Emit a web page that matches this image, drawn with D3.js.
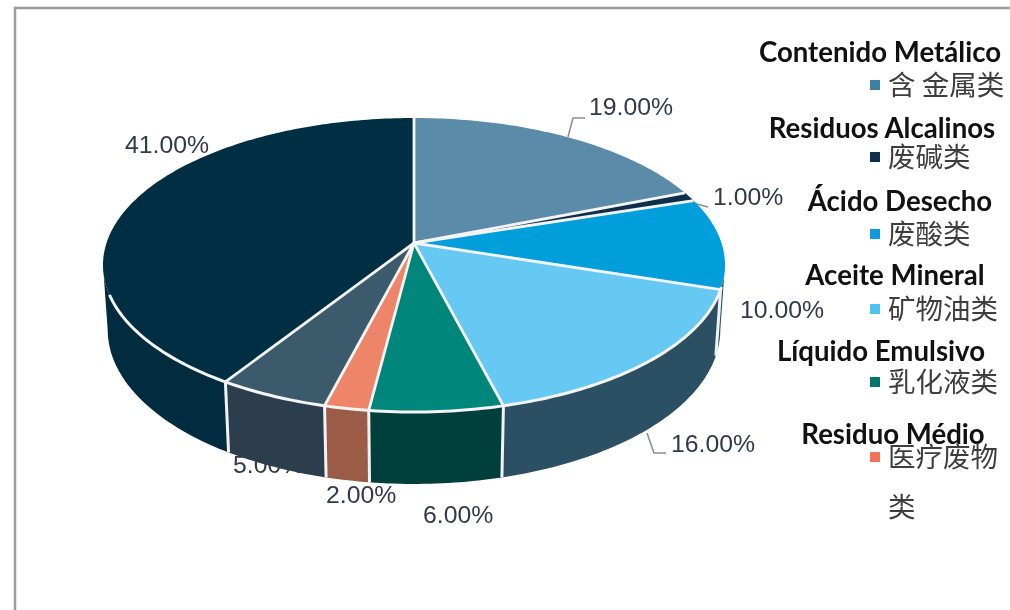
<!DOCTYPE html>
<html>
<head>
<meta charset="utf-8">
<script src="https://cdn.jsdelivr.net/npm/d3@7"></script>
<style>
  html, body { margin: 0; padding: 0; background: #fff; }
  svg { display: block; filter: blur(0.6px); }
</style>
</head>
<body>
<div class="chart"></div>
<script>
// chart data
const values = [19, 1, 10, 16, 6, 2, 5, 41];
const pctLabels = ['19.00%', '1.00%', '10.00%', '16.00%', '6.00%', '2.00%', '5.00%', '41.00%'];
const topColors = ['#5a8ba8', '#0d2f4b', '#009fdc', '#66c9f3', '#00867a', '#ee8468', '#3b5a6b', '#002e42'];
const wallColors = ['#3d6275', '#0a2236', '#2a4f63', '#2b5064', '#003f3b', '#9a5c47', '#2c3e4e', '#012b3e'];
const legendEs = ['Contenido Metálico', 'Residuos Alcalinos', 'Ácido Desecho', 'Aceite Mineral', 'Líquido Emulsivo', 'Residuo Médio'];
const legendZh = ['含 金属类', '废碱类', '废酸类', '矿物油类', '乳化液类', '医疗废物'];
const legendColors = ['#3f7f9f', '#0d2f4b', '#0a9be0', '#4fc3f0', '#00766b', '#f0735a'];

const w = 1010;
const h = 610;
const deg = Math.PI / 180;

// perspective pie: a real circle pushed through a projective map
const cx = 414, cy = 243;
const A = 307.5, B = 143.7, D = 64.8, k = 0.1497, m = 0.015;

function project(theta, z, r) {
  if (r === undefined) r = 1;
  var X = r * Math.sin(theta);
  var Y = -r * Math.cos(theta);
  var q = 1 - k * Y + m * z;
  return [cx + A * X / q, cy + (B * Y + D * z) / q];
}

function arcPoints(a0, a1, z) {
  var n = Math.max(2, Math.ceil((a1 - a0) / deg));
  return d3.range(n + 1).map(i => project(a0 + (a1 - a0) * i / n, z));
}

var svg = d3.select(".chart").append("svg")
  .attr("width", w)
  .attr("height", h);

// frame, only top and left show
svg.append("path")
  .attr("d", "M15,610V8H1010")
  .attr("fill", "none")
  .attr("stroke", "#9c9c9c")
  .attr("stroke-width", 2.5);

var line = d3.line();
var slices = d3.pie().sort(null)(values);

// DATA LABELS (under the pie: the 5% one is cut by the wall in the original)
const labelPos = [[589, 115], [713, 205], [740, 318], [671, 452], [423, 523], [326, 503], [233, 473], [125, 153]];
svg.selectAll(".pct")
  .data(pctLabels)
  .enter().append("text")
  .attr("class", "pct")
  .attr("x", (d, i) => labelPos[i][0])
  .attr("y", (d, i) => labelPos[i][1])
  .attr("font-family", "Liberation Sans, Arial, sans-serif")
  .attr("font-size", 24.8)
  .attr("fill", "#33384a")
  .text(d => d);

// leader lines
const leaders = [
  [[568, 137], [573, 118], [585, 118]],
  [[693, 203], [708, 207]],
  [[647, 433], [654, 453], [666, 453]]
];
svg.selectAll(".leader")
  .data(leaders)
  .enter().append("path")
  .attr("class", "leader")
  .attr("d", d => line(d))
  .attr("fill", "none")
  .attr("stroke", "#8f8f8f")
  .attr("stroke-width", 1.6);

// WALLS, only the front half between the two silhouette angles
const wallFrom = Math.acos(-k), wallTo = 2 * Math.PI - wallFrom;

svg.selectAll(".wall")
  .data(slices.filter(d => d.endAngle > wallFrom && d.startAngle < wallTo))
  .enter().append("path")
  .attr("class", "wall")
  .attr("d", d => {
    var a0 = Math.max(d.startAngle, wallFrom);
    var a1 = Math.min(d.endAngle, wallTo);
    return line(arcPoints(a0, a1, 0).concat(arcPoints(a0, a1, 1).reverse())) + "Z";
  })
  .attr("fill", d => wallColors[d.index]);

// white edges between wall parts
svg.selectAll(".wallEdge")
  .data(slices.filter(d => d.endAngle > wallFrom && d.endAngle < wallTo))
  .enter().append("path")
  .attr("class", "wallEdge")
  .attr("d", d => line([project(d.endAngle, 0), project(d.endAngle, 1)]))
  .attr("stroke", "#f2f2f2")
  .attr("stroke-width", 3);

// TOP FACE
svg.selectAll(".face")
  .data(slices)
  .enter().append("path")
  .attr("class", "face")
  .attr("d", d => line([project(0, 0, 0)].concat(arcPoints(d.startAngle, d.endAngle, 0))) + "Z")
  .attr("fill", d => topColors[d.index]);

svg.selectAll(".spoke")
  .data(slices)
  .enter().append("path")
  .attr("class", "spoke")
  .attr("d", d => line([project(0, 0, 0), project(d.startAngle, 0)]))
  .attr("stroke", "#f4f4f4")
  .attr("stroke-width", 2.8);

// white rim on the front edge
svg.append("path")
  .attr("d", line(arcPoints(107 * deg, 250 * deg, 0)))
  .attr("fill", "none")
  .attr("stroke", "#f4f4f4")
  .attr("stroke-width", 3);

// LEGEND
const esPos = [[880, 62], [882, 138], [900, 211], [895, 285], [881, 361], [893, 444]];
const zhPos = [[888, 95], [888, 167], [888, 244], [888, 319], [888, 392], [888, 467]];

svg.selectAll(".es")
  .data(legendEs)
  .enter().append("text")
  .attr("class", "es")
  .attr("x", (d, i) => esPos[i][0])
  .attr("y", (d, i) => esPos[i][1])
  .attr("text-anchor", "middle")
  .attr("font-family", "Lato, sans-serif")
  .attr("font-weight", 700)
  .attr("font-size", 27.6)
  .attr("fill", "#111")
  .text(d => d);

svg.selectAll(".zh")
  .data(legendZh)
  .enter().append("text")
  .attr("class", "zh")
  .attr("x", (d, i) => zhPos[i][0])
  .attr("y", (d, i) => zhPos[i][1])
  .attr("font-family", "'Noto Sans CJK SC', sans-serif")
  .attr("font-size", 27.5)
  .attr("fill", "#3e3e3e")
  .text(d => d);

// the last name wraps in the original
svg.append("text")
  .attr("x", 888)
  .attr("y", 517)
  .attr("font-family", "'Noto Sans CJK SC', sans-serif")
  .attr("font-size", 27.5)
  .attr("fill", "#3e3e3e")
  .text("类");

svg.selectAll(".key")
  .data(legendColors)
  .enter().append("rect")
  .attr("class", "key")
  .attr("x", 870)
  .attr("y", (d, i) => zhPos[i][1] - 15)
  .attr("width", 10)
  .attr("height", 10)
  .attr("fill", d => d);
</script>
</body>
</html>
